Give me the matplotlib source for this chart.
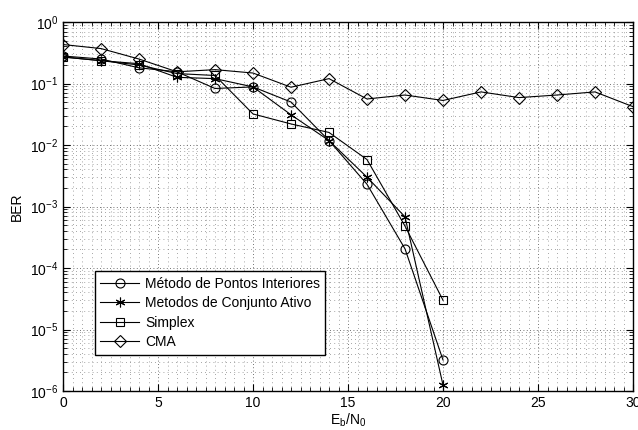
import numpy as np
import matplotlib.pyplot as plt
from matplotlib.ticker import MultipleLocator, LogLocator, NullFormatter

plt.rcParams['font.family'] = ['Liberation Sans', 'DejaVu Sans']
plt.rcParams['mathtext.fontset'] = 'custom'
plt.rcParams['mathtext.rm'] = 'Liberation Sans'
plt.rcParams['mathtext.it'] = 'Liberation Sans'

# data
snr = [0, 2, 4, 6, 8, 10, 12, 14, 16, 18, 20]
snr_cma = [0, 2, 4, 6, 8, 10, 12, 14, 16, 18, 20, 22, 24, 26, 28, 30]

ber_interior = [0.28, 0.25, 0.18, 0.155, 0.083, 0.088, 0.050, 0.0118, 0.0023, 2.05e-4, 3.2e-6]
ber_active = [0.27, 0.235, 0.21, 0.126, 0.12, 0.088, 0.031, 0.0118, 0.0030, 6.8e-4, 1.25e-6]
ber_simplex = [0.27, 0.235, 0.20, 0.145, 0.135, 0.032, 0.022, 0.0160, 0.0058, 4.8e-4, 3.0e-5]
ber_cma = [0.43, 0.37, 0.25, 0.155, 0.168, 0.148, 0.087, 0.12, 0.056, 0.065, 0.053, 0.073, 0.059, 0.065, 0.073, 0.042]

labels = ['Método de Pontos Interiores', 'Metodos de Conjunto Ativo', 'Simplex', 'CMA']

fig = plt.figure(figsize=(6.38, 4.30), dpi=100)
ax = fig.add_axes([63/638, 1-391/430, 570/638, 369/430])

kw = dict(color='black', lw=0.8, mfc='none', mec='black', mew=0.8)
ax.semilogy(snr, ber_interior, marker='o', ms=6.5, label=labels[0], **kw)
ax.semilogy(snr, ber_active, marker=(6, 2, 0), ms=7, label=labels[1], **kw)
ax.semilogy(snr, ber_simplex, marker='s', ms=5.5, label=labels[2], **kw)
ax.semilogy(snr_cma, ber_cma, marker='D', ms=6, label=labels[3], **kw)

ax.set_xlim(0, 30)
ax.set_ylim(1e-6, 1)
ax.xaxis.set_major_locator(MultipleLocator(5))
ax.xaxis.set_minor_locator(MultipleLocator(0.5))
ax.yaxis.set_major_locator(LogLocator(base=10, numticks=10))
ax.yaxis.set_minor_locator(LogLocator(base=10, subs=np.arange(2, 10), numticks=20))
ax.yaxis.set_minor_formatter(NullFormatter())

ax.grid(True, which='major', ls=(0, (1, 3)), color='#444444', lw=0.6)
ax.grid(True, which='minor', ls=(0, (1, 4)), color='#888888', lw=0.6)
ax.set_axisbelow(True)
ax.tick_params(which='both', direction='in', top=True, right=True, labelsize=10)
ax.tick_params(axis='x', which='minor', length=0)
ax.tick_params(which='major', length=5)
ax.tick_params(which='minor', length=3)
for s in ax.spines.values():
    s.set_linewidth(1.0)

ax.set_xlabel('E$_\\mathregular{b}$/N$_\\mathregular{0}$', fontsize=10, labelpad=1)
ax.set_ylabel('BER', fontsize=10, labelpad=4)

leg = ax.legend(loc='lower left', bbox_to_anchor=(0.056, 0.098), fontsize=10,
                fancybox=False, edgecolor='black', framealpha=1, handlelength=2.8,
                borderaxespad=0, labelspacing=0.4, handletextpad=0.4)
leg.get_frame().set_linewidth(1.0)

fig.savefig('out.png', dpi=100)
